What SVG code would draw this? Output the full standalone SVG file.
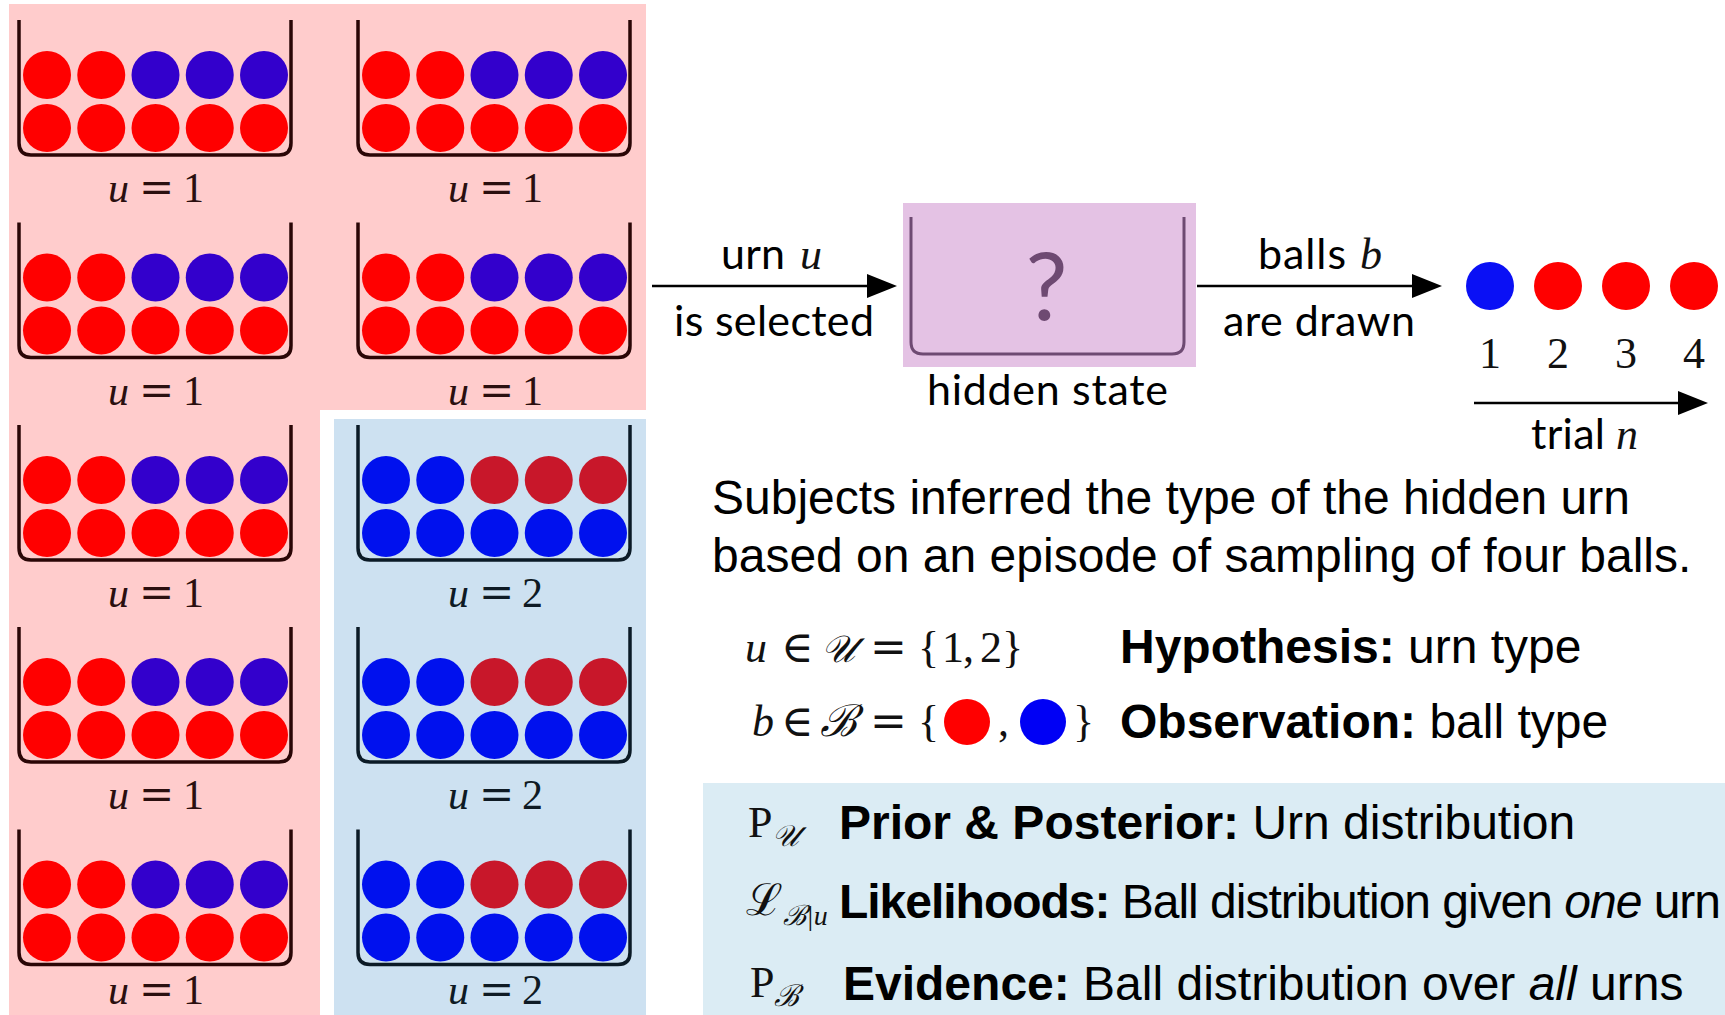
<svg xmlns="http://www.w3.org/2000/svg" xmlns:xlink="http://www.w3.org/1999/xlink" width="1725" height="1015" viewBox="0 0 1725 1015">
<style>
.r{fill:#ff0000}.p{fill:#3300cc}.b{fill:#0011ee}.dr{fill:#c8172a}
.w1{fill:none;stroke:#2a0606;stroke-width:3.5}
.w2{fill:none;stroke:#0b1a26;stroke-width:3.5}
.lbl{font-family:'Liberation Serif','DejaVu Serif',serif;font-size:42px;fill:#2a0f0f}
.lbl2{fill:#0e1a24}
.eq{font-family:'DejaVu Serif',serif}
.it{font-style:italic}
.sans{font-family:Lato,'DejaVu Sans',sans-serif;font-size:43px;fill:#000}
.ar{font-family:'Liberation Sans',Arial,sans-serif;font-size:48px;fill:#000}
.bd{font-weight:bold}
.math{font-family:'Liberation Serif','DejaVu Serif',serif;font-size:44px;fill:#111}
.conn{stroke:#000;stroke-width:2.5;fill:none}
</style>
<defs>
<marker id="ah" markerUnits="userSpaceOnUse" markerWidth="30" markerHeight="26" viewBox="0 0 30 26" refX="20" refY="13" orient="auto">
<path d="M0,1 L30,13 L0,25 Z" fill="#000"/>
</marker>
<g id="urnA">
<circle class="r" cx="28" cy="55" r="24"/><circle class="r" cx="82.25" cy="55" r="24"/><circle class="p" cx="136.5" cy="55" r="24"/><circle class="p" cx="190.75" cy="55" r="24"/><circle class="p" cx="245" cy="55" r="24"/>
<circle class="r" cx="28" cy="108" r="24"/><circle class="r" cx="82.25" cy="108" r="24"/><circle class="r" cx="136.5" cy="108" r="24"/><circle class="r" cx="190.75" cy="108" r="24"/><circle class="r" cx="245" cy="108" r="24"/>
<path class="w1" d="M0,0 V123 Q0,135 12,135 H260 Q272,135 272,123 V0"/>
</g>
<g id="urnB">
<circle class="b" cx="28" cy="55" r="24"/><circle class="b" cx="82.25" cy="55" r="24"/><circle class="dr" cx="136.5" cy="55" r="24"/><circle class="dr" cx="190.75" cy="55" r="24"/><circle class="dr" cx="245" cy="55" r="24"/>
<circle class="b" cx="28" cy="108" r="24"/><circle class="b" cx="82.25" cy="108" r="24"/><circle class="b" cx="136.5" cy="108" r="24"/><circle class="b" cx="190.75" cy="108" r="24"/><circle class="b" cx="245" cy="108" r="24"/>
<path class="w2" d="M0,0 V123 Q0,135 12,135 H260 Q272,135 272,123 V0"/>
</g>
</defs>
<rect width="1725" height="1015" fill="#ffffff"/>
<g id="backgrounds">
<path d="M9,4 H646 V410 H320 V1015 H9 Z" fill="#ffcccc"/>
<rect x="334" y="419" width="312" height="596" fill="#cde1f1"/>
<rect x="703" y="783" width="1022" height="232" fill="#dbecf4"/>
</g>
<g id="urn-1-1"><use xlink:href="#urnA" x="19" y="20"/><text class="lbl" y="202"><tspan class="it" x="108">u</tspan><tspan class="eq" x="139">=</tspan><tspan x="183">1</tspan></text></g>
<g id="urn-1-2"><use xlink:href="#urnA" x="358" y="20"/><text class="lbl" y="202"><tspan class="it" x="448">u</tspan><tspan class="eq" x="479">=</tspan><tspan x="522">1</tspan></text></g>
<g id="urn-2-1"><use xlink:href="#urnA" x="19" y="222.5"/><text class="lbl" y="404.5"><tspan class="it" x="108">u</tspan><tspan class="eq" x="139">=</tspan><tspan x="183">1</tspan></text></g>
<g id="urn-2-2"><use xlink:href="#urnA" x="358" y="222.5"/><text class="lbl" y="404.5"><tspan class="it" x="448">u</tspan><tspan class="eq" x="479">=</tspan><tspan x="522">1</tspan></text></g>
<g id="urn-3-1"><use xlink:href="#urnA" x="19" y="425"/><text class="lbl" y="607"><tspan class="it" x="108">u</tspan><tspan class="eq" x="139">=</tspan><tspan x="183">1</tspan></text></g>
<g id="urn-3-2"><use xlink:href="#urnB" x="358" y="425"/><text class="lbl lbl2" y="607"><tspan class="it" x="448">u</tspan><tspan class="eq" x="479">=</tspan><tspan x="522">2</tspan></text></g>
<g id="urn-4-1"><use xlink:href="#urnA" x="19" y="627"/><text class="lbl" y="809"><tspan class="it" x="108">u</tspan><tspan class="eq" x="139">=</tspan><tspan x="183">1</tspan></text></g>
<g id="urn-4-2"><use xlink:href="#urnB" x="358" y="627"/><text class="lbl lbl2" y="809"><tspan class="it" x="448">u</tspan><tspan class="eq" x="479">=</tspan><tspan x="522">2</tspan></text></g>
<g id="urn-5-1"><use xlink:href="#urnA" x="19" y="829.5"/><text class="lbl" y="1004"><tspan class="it" x="108">u</tspan><tspan class="eq" x="139">=</tspan><tspan x="183">1</tspan></text></g>
<g id="urn-5-2"><use xlink:href="#urnB" x="358" y="829.5"/><text class="lbl lbl2" y="1004"><tspan class="it" x="448">u</tspan><tspan class="eq" x="479">=</tspan><tspan x="522">2</tspan></text></g>
<g id="connectors">
<line class="conn" x1="652" y1="286" x2="887" y2="286" marker-end="url(#ah)"/>
<line class="conn" x1="1197" y1="286" x2="1432" y2="286" marker-end="url(#ah)"/>
<line class="conn" x1="1474" y1="403" x2="1698" y2="403" marker-end="url(#ah)"/>
</g>
<g id="label-select">
<text class="sans" x="721" y="269" textLength="64">urn</text>
<text class="math it" x="800" y="269">u</text>
<text class="sans" x="674" y="336" textLength="200">is selected</text>
</g>
<g id="hidden-state">
<rect x="903" y="203" width="293" height="164" fill="#e4c2e4"/>
<path d="M911,217 V342 Q911,354 923,354 H1172 Q1184,354 1184,342 V217" fill="none" stroke="#6e4a72" stroke-width="3"/>
<text x="1046.5" y="320" text-anchor="middle" font-family="Lato,'DejaVu Sans',sans-serif" font-size="94" fill="#6e4a72">?</text>
<text class="sans" x="927" y="405" textLength="241">hidden state</text>
</g>
<g id="label-drawn">
<text class="sans" x="1258" y="269" textLength="88">balls</text>
<text class="math it" x="1360" y="269">b</text>
<text class="sans" x="1223" y="336" textLength="192">are drawn</text>
</g>
<g id="ball-sequence">
<circle cx="1490" cy="286" r="24" fill="#0a10f5"/>
<circle cx="1558" cy="286" r="24" fill="#ff0000"/>
<circle cx="1626" cy="286" r="24" fill="#ff0000"/>
<circle cx="1694" cy="286" r="24" fill="#ff0000"/>
<text class="math" y="368" text-anchor="middle"><tspan x="1490">1</tspan><tspan x="1558">2</tspan><tspan x="1626">3</tspan><tspan x="1694">4</tspan></text>
</g>
<g id="label-trial">
<text class="sans" x="1531" y="449" textLength="74">trial</text>
<text class="math it" x="1616" y="449">n</text>
</g>
<g id="description">
<text class="ar" x="712" y="514">Subjects inferred the type of the hidden urn</text>
<text class="ar" x="712" y="572">based on an episode of sampling of four balls.</text>
</g>
<g id="hypothesis">
<text class="math" y="662"><tspan class="it" x="745">u</tspan><tspan class="eq" x="781">∈</tspan><tspan class="it" x="821" font-size="38">𝒰</tspan><tspan class="eq" x="870">=</tspan><tspan x="918">{</tspan><tspan x="942">1</tspan><tspan x="963">,</tspan><tspan x="980">2</tspan><tspan x="1002">}</tspan></text>
<text class="ar" x="1120" y="663"><tspan class="bd">Hypothesis:</tspan> urn type</text>
</g>
<g id="observation">
<text class="math" y="736"><tspan class="it" x="752">b</tspan><tspan class="eq" x="781">∈</tspan><tspan class="it" x="820">ℬ</tspan><tspan class="eq" x="870">=</tspan><tspan x="918">{</tspan><tspan x="998">,</tspan><tspan x="1073">}</tspan></text>
<circle cx="967" cy="722" r="23" fill="#ff0000"/>
<circle cx="1043" cy="722" r="23" fill="#0000f5"/>
<text class="ar" x="1120" y="738"><tspan class="bd">Observation:</tspan> ball type</text>
</g>
<g id="prior">
<text class="math" x="748" y="837">P<tspan font-size="30" class="it" dy="9">𝒰</tspan></text>
<text class="ar" x="839" y="839"><tspan class="bd">Prior &amp; Posterior:</tspan> Urn distribution</text>
</g>
<g id="likelihood">
<text class="math" x="746" y="915">ℒ<tspan font-size="28" class="it" dy="10">ℬ|u</tspan></text>
<text class="ar" x="839" y="918" textLength="882"><tspan class="bd">Likelihoods:</tspan> Ball distribution given <tspan class="it">one</tspan> urn</text>
</g>
<g id="evidence">
<text class="math" x="750" y="997">P<tspan font-size="30" class="it" dy="9">ℬ</tspan></text>
<text class="ar" x="843" y="1000"><tspan class="bd">Evidence:</tspan> Ball distribution over <tspan class="it">all</tspan> urns</text>
</g>
</svg>
